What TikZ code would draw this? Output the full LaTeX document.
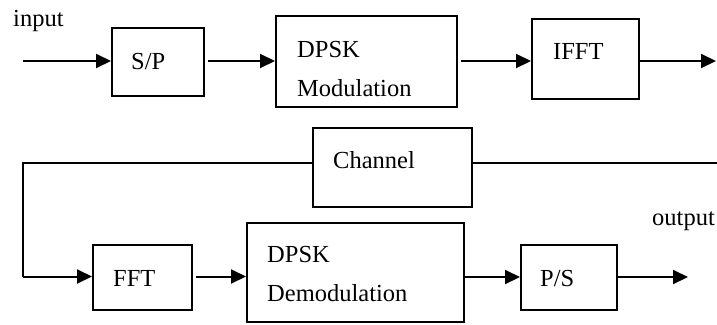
\documentclass[tikz,border=0pt]{standalone}
\usepackage{fontspec}
\setmainfont{Liberation Serif}
\usetikzlibrary{arrows.meta}
\begin{document}
\begin{tikzpicture}[x=1pt,y=-1pt,
  blk/.style={draw=black,line width=2pt,rectangle,inner sep=0pt},
  lbl/.style={anchor=base west,inner sep=0pt,font=\fontsize{24.5}{28}\selectfont},
  conn/.style={line width=2pt},
  arr/.style={conn,-{Triangle[length=15pt,width=14pt]}}]
\useasboundingbox (0,0) rectangle (717,324);
% boxes
\node[blk,minimum width=92pt,minimum height=68pt] (sp) at (158,62) {};
\node[blk,minimum width=181pt,minimum height=91pt] (mod) at (366.5,61.5) {};
\node[blk,minimum width=107pt,minimum height=80pt] (ifft) at (585.5,59) {};
\node[blk,minimum width=159pt,minimum height=79pt] (chan) at (392.5,167.5) {};
\node[blk,minimum width=99pt,minimum height=65pt] (fft) at (142.5,277.5) {};
\node[blk,minimum width=217pt,minimum height=99pt] (demod) at (355.5,272.5) {};
\node[blk,minimum width=96pt,minimum height=65pt] (ps) at (569,277.5) {};
% labels
\node[lbl] (tin) at (13,27) {input};
\node[lbl] (tsp) at (131,69) {S/P};
\node[lbl] (tmod1) at (297,57) {DPSK};
\node[lbl] (tmod2) at (297,96) {Modulation};
\node[lbl] (tifft) at (553,59) {IFFT};
\node[lbl] (tchan) at (333,168) {Channel};
\node[lbl] (tfft) at (113,286) {FFT};
\node[lbl] (tdem1) at (267,262) {DPSK};
\node[lbl] (tdem2) at (267,301) {Demodulation};
\node[lbl] (tps) at (540,286) {P/S};
\node[lbl] (tout) at (652,225) {output};
% coordinates
\coordinate (in) at (23,61);
\coordinate (txout) at (716,61);
\coordinate (chr) at (717,163);
\coordinate (corner) at (23,163);
\coordinate (rxin) at (23,276.5);
\coordinate (out) at (688,277);
% connectors
\draw[arr] (in) -- (in -| sp.west);
\draw[arr,shorten <=3pt] (sp.east |- in) -- (in -| mod.west);
\draw[arr,shorten <=3pt] (mod.east |- in) -- (in -| ifft.west);
\draw[arr] (ifft.east |- in) -- (txout);
\draw[conn] (chr) -- (chr -| chan.east);
\draw[conn] (chr -| chan.west) -- (corner) -- (rxin);
\draw[arr] (rxin) -- (rxin -| fft.west);
\draw[arr,shorten <=3pt] (fft.east |- rxin) -- (rxin -| demod.west);
\draw[arr] (demod.east |- out) -- (out -| ps.west);
\draw[arr] (ps.east |- out) -- (out);
\end{tikzpicture}
\end{document}
